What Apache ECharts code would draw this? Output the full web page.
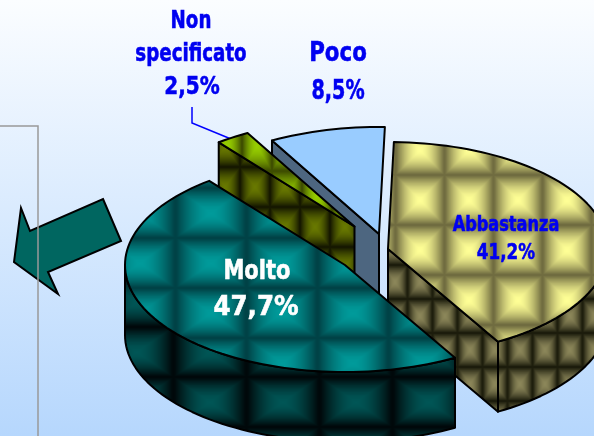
<!DOCTYPE html>
<html><head><meta charset="utf-8">
<style>html,body{margin:0;padding:0;overflow:hidden}#c{width:594px;height:436px}</style>
<script src="https://cdn.jsdelivr.net/npm/echarts@6/dist/echarts.min.js"></script>
</head><body><div id="c"></div>
<script>
// ---- data ----
const categories = ['Molto', 'Non specificato', 'Poco', 'Abbastanza'];
const values = [47.7, 2.5, 8.5, 41.2];

// ---- look ----
const startAngle = 60, rx = 220, ry = 107, depth = 70;
const centers = [[345, 265], [354.5, 226.5], [379, 234], [388, 249]];
const drawRank = [4, 2, 1, 3];
const nameStyle = [
  {x: 257, y: 272, size: 27, lh: 36, sx: .78, color: '#fff'},
  {x: 191, y: 38, size: 25, lh: 33, sx: .73, color: '#0000f0'},
  {x: 338, y: 54, size: 27, lh: 38, sx: .79, color: '#0000f0'},
  {x: 506, y: 226, size: 21, lh: 28, sx: .77, color: '#0000f0'}
];
const valueStyle = [
  {x: 256, y: 308, size: 27, sx: .91},
  {x: 192, y: 87, size: 25, sx: .8},
  {x: 338, y: 92, size: 27, sx: .71},
  {x: 506, y: 254, size: 21, sx: .8}
];
function tile(w, h, hi, lo) {
  const c = document.createElement('canvas'); c.width = w; c.height = h;
  const g = c.getContext('2d'), im = g.createImageData(w, h);
  for (let y = 0; y < h; y++) for (let x = 0; x < w; x++) {
    const u = Math.abs((x + .5) / w * 2 - 1), v = Math.abs((y + .5) / h * 2 - 1);
    const t = Math.min(1, Math.pow(Math.max(u, v) * 1.03, 1.7)), i = (y * w + x) * 4;
    for (let k = 0; k < 3; k++) im.data[i + k] = hi[k] + (lo[k] - hi[k]) * t;
    im.data[i + 3] = 255;
  }
  g.putImageData(im, 0, 0); return c;
}
function pat(w, h, px, py, hi, lo) {
  return {image: tile(w, h, hi, lo), repeat: 'repeat', x: px - w / 2, y: py - h / 2};
}
const topFill = [
  pat(71, 50, 140, 213, [0, 155, 155], [0, 66, 70]),
  pat(30, 50, 257, 146, [150, 205, 0], [62, 78, 0]),
  '#99ccff',
  pat(49, 50, 420, 150, [255, 255, 150], [112, 108, 64])
];
const wallFill = [
  pat(73, 50, 283, 352, [0, 86, 86], [0, 8, 10]),
  pat(30, 40, 255, 187, [104, 120, 0], [22, 24, 0]),
  '#4d6680',
  pat(25, 34, 420, 316, [140, 135, 90], [28, 28, 12])
];
const total = values.reduce((a, b) => a + b, 0);
const rad = d => d * Math.PI / 180;

function renderSlice(params, api) {
  const i = params.dataIndex, v = api.value(0);
  let a0 = startAngle;
  for (let k = 0; k < i; k++) a0 += values[k] / total * 360;
  const a1 = a0 + v / total * 360;
  const [cx, cy] = centers[i];
  const pt = (a, dy) => [cx + rx * Math.cos(rad(a)), cy + ry * Math.sin(rad(a)) + (dy || 0)];
  const arc = (from, to, dy) => {
    const n = Math.max(2, Math.ceil((to - from) / 2)), p = [];
    for (let k = 0; k <= n; k++) p.push(pt(from + (to - from) * k / n, dy));
    return p;
  };
  const line = {stroke: '#000', lineWidth: 2, lineJoin: 'round'};
  const base = drawRank[i] * 10, children = [];
  const wall = (ang) => children.push({
    type: 'polygon', z2: base,
    shape: {points: [[cx, cy], pt(ang), pt(ang, depth), [cx, cy + depth]]},
    style: Object.assign({fill: wallFill[i]}, line)
  });
  if (Math.cos(rad(a0)) < -0.01) wall(a0);
  if (Math.cos(rad(a1)) > 0.2) wall(a1);
  [[0, 180], [360, 540]].forEach(([s, e]) => {
    const from = Math.max(a0, s), to = Math.min(a1, e);
    if (to > from) {
      children.push({
        type: 'polygon', z2: base + 1,
        shape: {points: arc(from, to, 0).concat(arc(from, to, depth).reverse())},
        style: Object.assign({fill: wallFill[i]}, line)
      });
    }
  });
  children.push({
    type: 'polygon', z2: base + 2,
    shape: {points: [[cx, cy]].concat(arc(a0, a1))},
    style: Object.assign({fill: topFill[i]}, line)
  });
  const ns = nameStyle[i], vs = valueStyle[i];
  const txt = (s, st) => children.push({
    type: 'text', z2: 100, x: st.x, y: st.y, scaleX: st.sx,
    style: {
      text: s, fontFamily: 'DejaVu Sans', fontWeight: 'bold', fontSize: st.size, lineHeight: st.lh || st.size,
      fill: ns.color, stroke: ns.color, lineWidth: .6, align: 'center', verticalAlign: 'middle'
    }
  });
  txt(categories[i].replace(' ', '\n'), ns);
  txt(v.toFixed(1).replace('.', ',') + '%', vs);
  return {type: 'group', children};
}

const chart = echarts.init(document.getElementById('c'), null, {renderer: 'canvas'});
chart.setOption({
  animation: false,
  backgroundColor: {type: 'linear', x: 0, y: 0, x2: 0, y2: 1,
    colorStops: [{offset: 0, color: '#fbfdff'}, {offset: 1, color: '#b6d7fd'}]},
  graphic: [
    {type: 'polygon', z: 1, shape: {points: [[103,199],[121,241],[48,272],[58,294],[14,262],[21,208],[30,231]]},
      style: {fill: '#006660', stroke: '#000', lineWidth: 2}},
    {type: 'polyline', z: 2, shape: {points: [[0,126],[38,126],[38,436]]},
      style: {fill: null, stroke: '#999', lineWidth: 1.5}},
    {type: 'polyline', z: 2, shape: {points: [[192,107],[192,123],[231,139]]},
      style: {fill: null, stroke: '#0000ff', lineWidth: 1.5}}
  ],
  series: [{
    type: 'custom', coordinateSystem: 'none', silent: true, clip: false,
    renderItem: renderSlice,
    data: values.map((v, i) => ({name: categories[i], value: [v]}))
  }]
});
</script></body></html>
